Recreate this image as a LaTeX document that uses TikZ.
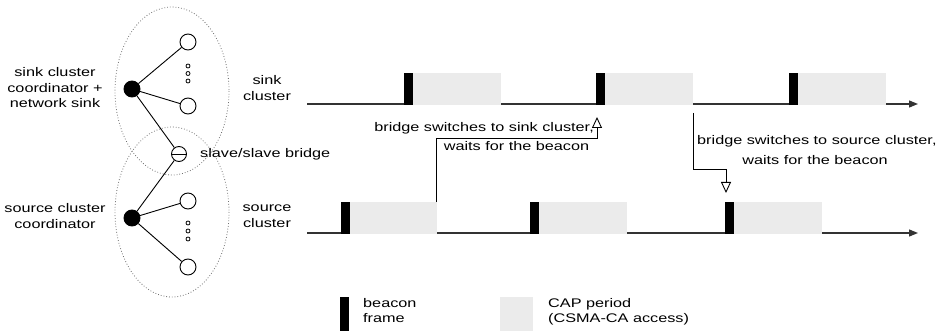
\documentclass[tikz,border=0pt]{standalone}
\usepackage{fontspec}
\setmainfont{Liberation Sans}[FakeStretch=1.3]
\usetikzlibrary{arrows.meta}
\definecolor{capgray}{HTML}{EBEBEB}
\definecolor{dotgray}{HTML}{707070}
\begin{document}
\begin{tikzpicture}[x=1pt,y=-1pt,
  every node/.style={font=\fontsize{12.5}{15.5}\selectfont},
  txt/.style={inner sep=0pt, align=center},
  beaconbar/.style={fill=black, draw=none, minimum width=9pt, minimum height=32pt, inner sep=0pt, anchor=south west},
  capbox/.style={fill=capgray, draw=none, minimum width=88pt, minimum height=32pt, inner sep=0pt, anchor=south west},
  timeline/.style={line width=1.3pt, draw=black!80, -{Triangle[length=9pt,width=7pt]}},
  switcharrow/.style={line width=0.9pt, -{Triangle[open,length=11pt,width=10pt,line width=0.9pt]}},
  leaf/.style={circle, draw, line width=0.9pt, fill=white, minimum size=16pt, inner sep=0pt},
  coord/.style={circle, draw, line width=0.9pt, fill=black, minimum size=16pt, inner sep=0pt},
  tinydot/.style={circle, draw, line width=0.8pt, fill=white, minimum size=4pt, inner sep=0pt},
  edge/.style={line width=0.9pt},
  clusterline/.style={dotted, line width=0.8pt, draw=dotgray}
]
\useasboundingbox (0,0) rectangle (937,331);

% cluster outlines
\draw[clusterline] (172,91) ellipse [x radius=57, y radius=84];
\draw[clusterline] (172,212) ellipse [x radius=57, y radius=85];

% sink cluster nodes
\node[coord] (sinkc) at (132,89) {};
\node[leaf] (sinkl1) at (188,42) {};
\node[leaf] (sinkl2) at (188,106) {};
\node[tinydot] (sd1) at (188,66) {};
\node[tinydot] (sd2) at (188,73.5) {};
\node[tinydot] (sd3) at (188,81) {};

% bridge
\node[circle, draw, line width=0.9pt, fill=white, minimum size=15pt, inner sep=0pt,
  path picture={\draw[line width=0.9pt] (path picture bounding box.west) -- (path picture bounding box.east);}] (bridge) at (179,154) {};

% source cluster nodes
\node[coord] (srcc) at (132,218) {};
\node[leaf] (srcl1) at (188,201) {};
\node[leaf] (srcl2) at (188,267) {};
\node[tinydot] (rd1) at (188,223) {};
\node[tinydot] (rd2) at (188,231) {};
\node[tinydot] (rd3) at (188,239) {};

\draw[edge] (sinkc) -- (sinkl1);
\draw[edge] (sinkc) -- (sinkl2);
\draw[edge] (sinkc) -- (bridge);
\draw[edge] (srcc) -- (bridge);
\draw[edge] (srcc) -- (srcl1);
\draw[edge] (srcc) -- (srcl2);

% left labels
\node[txt] (lsink) at (55,88) {sink cluster\\coordinator +\\network sink};
\node[txt] (lsrc) at (55,216) {source cluster\\coordinator};
\node[txt, anchor=west] (lbridge) at (200,154) {slave/slave bridge};
\node[txt] (tsink) at (267,88) {sink\\cluster};
\node[txt] (tsrc) at (267,216) {source\\cluster};

% sink timeline
\coordinate (sinkstart) at (307,104);
\coordinate (sinkend) at (918,104);
\draw[timeline] (sinkstart) -- (sinkend);
\node[capbox] (scap1) at (413,105.5) {};
\node[capbox] (scap2) at (605,105.5) {};
\node[capbox] (scap3) at (798,105.5) {};
\node[beaconbar] (sb1) at (404,105.5) {};
\node[beaconbar] (sb2) at (596,105.5) {};
\node[beaconbar] (sb3) at (789,105.5) {};

% source timeline
\coordinate (srcstart) at (307,233);
\coordinate (srcend) at (918,233);
\draw[timeline] (srcstart) -- (srcend);
\node[capbox] (rcap1) at (349,234.5) {};
\node[capbox] (rcap2) at (539,234.5) {};
\node[capbox] (rcap3) at (734,234.5) {};
\node[beaconbar] (rb1) at (341,234.5) {};
\node[beaconbar] (rb2) at (530,234.5) {};
\node[beaconbar] (rb3) at (725,234.5) {};

% bridge switching to the sink cluster
\coordinate (up0) at (rcap1.north east);
\coordinate (up1) at (436,138);
\coordinate (up2) at (597,138);
\coordinate (up3) at (597,117);
\draw[switcharrow] (up0 -| up1) -- (up1) -- (up2) -- (up3);
\node[txt, anchor=east] (t1a) at (594,128) {bridge switches to sink cluster,};
\node[txt] (t1b) at (516.5,146) {waits for the beacon};

% bridge switching to the source cluster
\coordinate (dn0) at (693,113);
\coordinate (dn1) at (693,169);
\coordinate (dn2) at (726,169);
\coordinate (dn3) at (726,193);
\draw[switcharrow] (dn0) -- (dn1) -- (dn2) -- (dn3);
\node[txt, anchor=west] (t2a) at (697,141) {bridge switches to source cluster,};
\node[txt] (t2b) at (815,160) {waits for the beacon};

% legend
\node[fill=black, minimum width=9pt, minimum height=36pt, inner sep=0pt, anchor=north west] (legb) at (340,297) {};
\node[txt, anchor=north west, align=left] (legbt) at (363,298) {beacon\\frame};
\node[fill=capgray, minimum width=33pt, minimum height=36pt, inner sep=0pt, anchor=north west] (legc) at (500,297) {};
\node[txt, anchor=north west, align=left] (legct) at (548,298) {CAP period\\(CSMA-CA access)};
\end{tikzpicture}
\end{document}
